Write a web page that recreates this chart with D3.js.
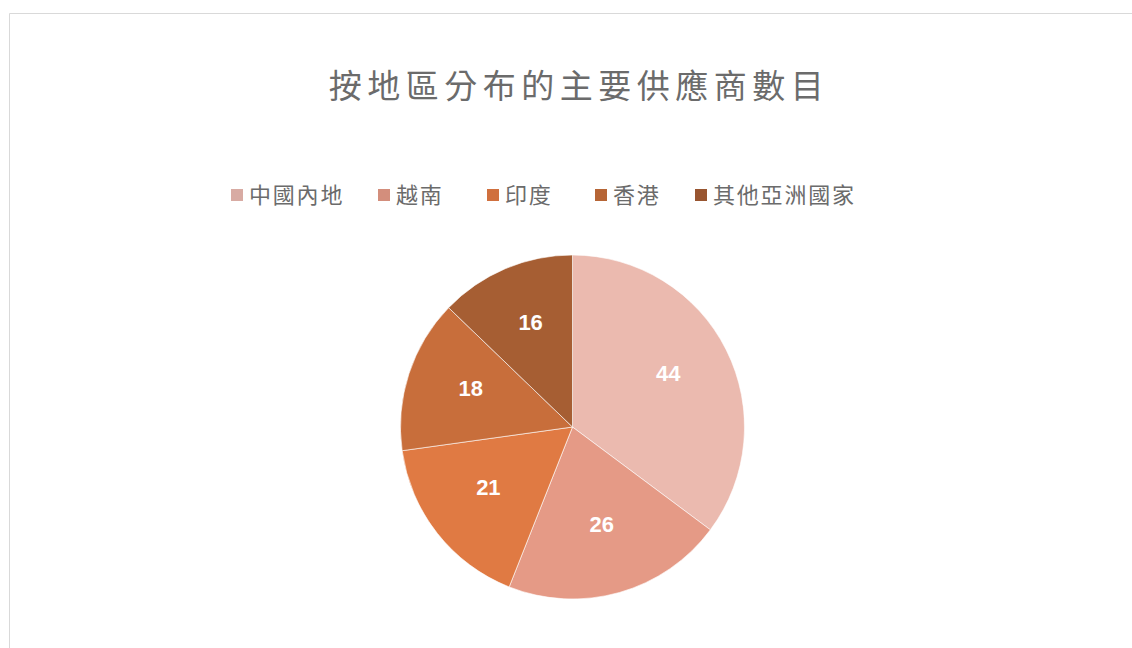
<!DOCTYPE html>
<html>
<head>
<meta charset="utf-8">
<script src="https://cdn.jsdelivr.net/npm/d3@7"></script>
<style>
  body { margin: 0; background: #fff; }
  svg { display: block; }
</style>
</head>
<body>
<div class="chart"></div>
<script>
// Data
const regions = ["中國內地", "越南", "印度", "香港", "其他亞洲國家"];
const counts = [44, 26, 21, 18, 16];
const sliceColors = ["#ebbaaf", "#e59a86", "#e07a43", "#c86e3b", "#a65e33"];
const keyColors = ["#d8aba3", "#d38e7c", "#d0703e", "#b66536", "#985530"];

const W = 1132, H = 648;
const svg = d3.select(".chart").append("svg")
    .attr("width", W)
    .attr("height", H);

// chart frame (only top + left edges visible)
svg.append("path")
    .attr("d", `M9.5,${H} L9.5,13.5 L${W},13.5`)
    .attr("fill", "none")
    .attr("stroke", "#d9d9d9")
    .attr("stroke-width", 1);

// Title
svg.append("text")
    .attr("x", 579)
    .attr("y", 98)
    .attr("text-anchor", "middle")
    .style("font-family", "'Noto Sans CJK TC', 'Noto Sans CJK SC', sans-serif")
    .style("font-size", "33px")
    .style("letter-spacing", "5.5px")
    .style("fill", "#6b6b6b")
    .text("按地區分布的主要供應商數目");

// Legend
const legendX = [231, 378, 487, 595, 695];
const legend = svg.append("g").attr("transform", "translate(0,195)");
const item = legend.selectAll("g")
    .data(regions)
    .enter()
    .append("g")
    .attr("transform", (d, i) => `translate(${legendX[i]},0)`);

item.append("rect")
    .attr("x", 0)
    .attr("y", -6)
    .attr("width", 12)
    .attr("height", 12)
    .style("fill", (d, i) => keyColors[i]);

item.append("text")
    .attr("x", 18)
    .attr("y", 0)
    .attr("dy", "0.36em")
    .style("font-family", "'Noto Sans CJK TC', 'Noto Sans CJK SC', sans-serif")
    .style("font-size", "22px")
    .style("letter-spacing", "1.8px")
    .style("fill", "#6b6b6b")
    .text(d => d);

// Pie
const cx = 572.5, cy = 427, R = 172;
const pie = d3.pie().sort(null).value(d => d);
const arc = d3.arc().innerRadius(0).outerRadius(R);
const labelArc = d3.arc().innerRadius(107).outerRadius(107);

const g = svg.append("g").attr("transform", `translate(${cx},${cy})`);
const slices = g.selectAll("g")
    .data(pie(counts))
    .enter()
    .append("g");

slices.append("path")
    .attr("d", arc)
    .style("fill", (d, i) => sliceColors[i])
    .style("stroke", "#fff")
    .style("stroke-width", 0.6);

slices.append("text")
    .attr("transform", d => {
        const [x, y] = labelArc.centroid(d);
        return `translate(${x},${y - 6})`;
    })
    .attr("text-anchor", "middle")
    .attr("dy", "0.36em")
    .style("font-family", "'Liberation Sans', Arial, sans-serif")
    .style("font-weight", "bold")
    .style("font-size", "22px")
    .style("fill", "#fff")
    .text(d => d.data);
</script>
</body>
</html>
